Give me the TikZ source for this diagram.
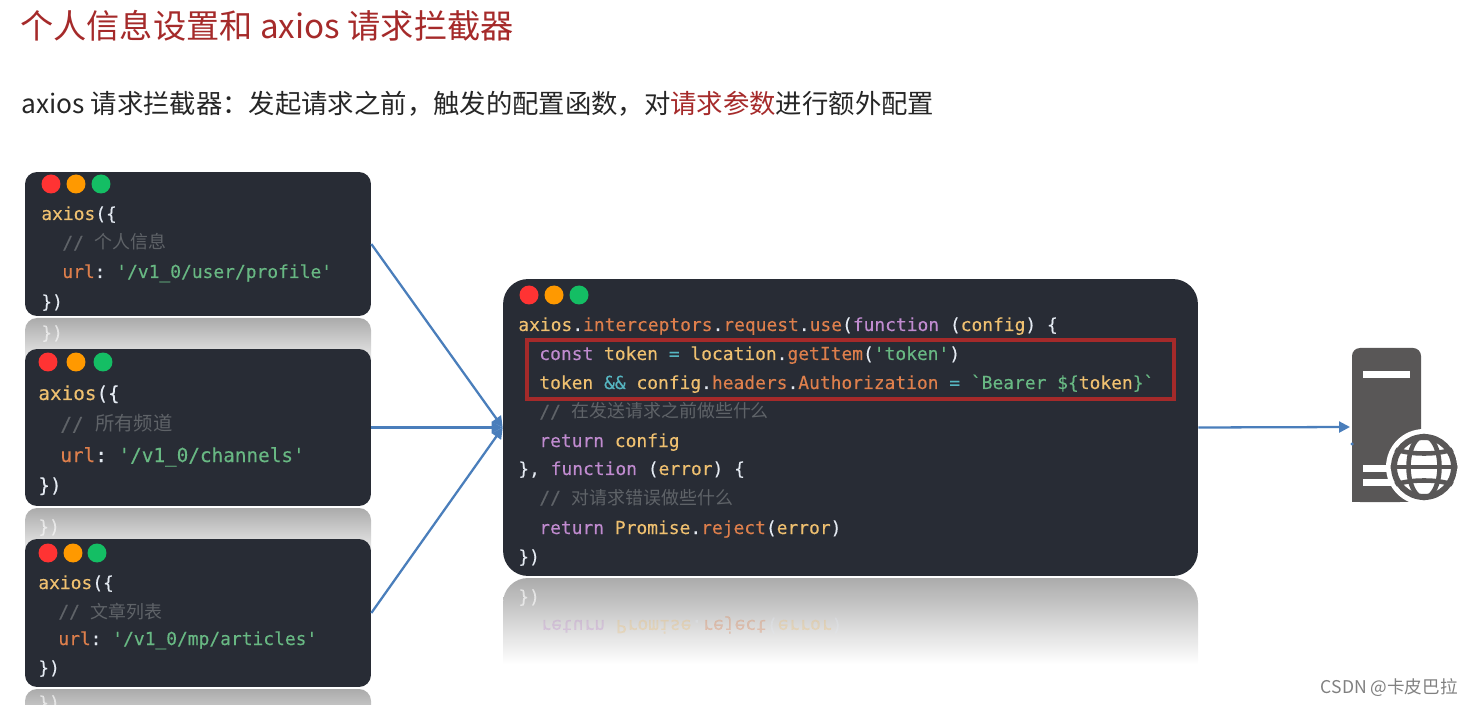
\documentclass[tikz,border=0pt]{standalone}
\usepackage{fontspec}
\setmainfont{Noto Sans CJK SC}
\setmonofont[RawFeature={embolden=0.25}]{DejaVu Sans Mono}
\newfontfamily\cjk{Noto Sans CJK SC}
\usepackage{xcolor}
\usetikzlibrary{arrows.meta, positioning, shapes.geometric, calc}
\definecolor{panelbg}{HTML}{282C35}
\definecolor{titlered}{HTML}{A52A2A}
\definecolor{linkblue}{HTML}{4A7EBB}
\definecolor{servergray}{HTML}{595757}
\definecolor{cyel}{HTML}{EFC070}
\definecolor{corg}{HTML}{DE7F4C}
\definecolor{cpur}{HTML}{C08BCF}
\definecolor{cgrn}{HTML}{68B883}
\definecolor{ccya}{HTML}{56B6C2}
\definecolor{cwht}{HTML}{E4EAF2}
\definecolor{cgry}{HTML}{5F6368}
\newcommand{\yel}[1]{\textcolor{cyel}{#1}}
\newcommand{\org}[1]{\textcolor{corg}{#1}}
\newcommand{\pur}[1]{\textcolor{cpur}{#1}}
\newcommand{\grn}[1]{\textcolor{cgrn}{#1}}
\newcommand{\cya}[1]{\textcolor{ccya}{#1}}
\begin{document}
\begin{tikzpicture}[x=0.02cm, y=-0.02cm,
  codebox/.style={fill=panelbg, inner sep=0pt, minimum width=6.92cm, rounded corners=0.24cm},
  codeline/.style={anchor=base west, inner sep=0pt, font=\fontsize{10.2}{12}\selectfont\ttfamily, text=cwht},
  remark/.style={codeline, text=cgry},
  mirror/.style={top color=black!33, bottom color=white, rounded corners=0.24cm},
  link/.style={-{Triangle[length=0.22cm, width=0.22cm]}, draw=linkblue, line width=1.3pt}]
  \useasboundingbox (0,0) rectangle (1473,705);
  % Heading
  \node[anchor=base west, inner sep=0pt, text=titlered, font=\fontsize{18.9}{22}\selectfont] (title) at (20,39) {个人信息设置和 axios 请求拦截器};
  \node[anchor=base west, inner sep=0pt, text=black!85, font=\fontsize{15}{18}\selectfont] (subtitle) at (21,114) {axios 请求拦截器：发起请求之前，触发的配置函数，对\textcolor{titlered}{请求参数}进行额外配置};
  % Reflections under the boxes
  \shade[mirror] (25,318) rectangle (371,374);
  \shade[mirror] (25,508) rectangle (371,564);
  \shade[mirror] (25,689) rectangle (371,745);
  \shade[mirror, rounded corners=0.5cm] (503,664) -- (503,578) -- (1198,578) [sharp corners] -- (1198,664) -- cycle;
  \node[codeline, text=white, opacity=0.6] (refa) at (41,339) {\})};
  \node[codeline, text=white, opacity=0.6] (refb) at (38,533) {\})};
  \node[codeline, text=white, opacity=0.6] (refc) at (38,709) {\})};
  \node[codeline, text=white, opacity=0.6] (refd) at (518,603) {\})};
  \node[codeline, opacity=0.3, yscale=-1, transform shape] (refe) at (540,620) {\pur{return} \yel{Promise}.\org{reject}(\yel{error})};
  % Small boxes on the left
  \node[codebox, minimum height=2.88cm] (box1) at (198,244) {};
  \node[codebox, minimum height=3.14cm] (box2) at (198,427.5) {};
  \node[codebox, minimum height=2.96cm] (box3) at (198,613) {};
  % Big box
  \node[codebox, minimum width=13.9cm, minimum height=5.94cm, rounded corners=0.5cm] (panel) at (850.5,427.5) {};
  % Window buttons
  \foreach \cx/\cy/\cc in {51/184/FF3333, 76/184/FF9900, 101/184/14BE64,
                           48/362/FF3333, 76/362/FF9900, 103/362/14BE64,
                           48/553/FF3333, 73/553/FF9900, 97/553/14BE64,
                           529/295/FF3333, 554/295/FF9900, 579/295/14BE64} {
    \definecolor{btn}{HTML}{\cc}
    \fill[btn] (\cx,\cy) circle (0.19cm);
  }
  % Box 1 text
  \node[codeline] (aa) at (41,220) {\yel{axios}(\{};
  \node[remark] (ab) at (62,249) {// {\cjk 个人信息}};
  \node[codeline] (ac) at (62,278) {\org{url}: \grn{'/v1\_0/user/profile'}};
  \node[codeline] (ad) at (41,308) {\})};
  % Box 2 text
  \node[codeline, font=\fontsize{11}{13}\selectfont\ttfamily] (ba) at (38,400) {\yel{axios}(\{};
  \node[remark, font=\fontsize{11}{13}\selectfont\ttfamily] (bb) at (60,431) {// {\cjk 所有频道}};
  \node[codeline, font=\fontsize{11}{13}\selectfont\ttfamily] (bc) at (60,462) {\org{url}: \grn{'/v1\_0/channels'}};
  \node[codeline, font=\fontsize{11}{13}\selectfont\ttfamily] (bd) at (38,492) {\})};
  % Box 3 text
  \node[codeline] (ca) at (38,589) {\yel{axios}(\{};
  \node[remark] (cb) at (58,618) {// {\cjk 文章列表}};
  \node[codeline] (cc) at (58,645) {\org{url}: \grn{'/v1\_0/mp/articles'}};
  \node[codeline] (cd) at (38,674) {\})};
  % Big box text
  \node[codeline] (pa) at (518,331) {\yel{axios}.\org{interceptors}.\org{request}.\org{use}(\pur{function} (\yel{config}) \{};
  \node[codeline] (pb) at (539,360) {\pur{const} \yel{token} \cya{=} \yel{location}.\org{getItem}(\grn{'token'})};
  \node[codeline] (pc) at (539,389) {\yel{token} \cya{\&\&} \yel{config}.\org{headers}.\org{Authorization} \cya{=} \grn{`Bearer \$\{}\yel{token}\grn{\}`}};
  \node[remark] (pd) at (539,418) {// {\cjk 在发送请求之前做些什么}};
  \node[codeline] (pe) at (539,447) {\pur{return} \yel{config}};
  \node[codeline] (pf) at (518,475) {\}, \pur{function} (\yel{error}) \{};
  \node[remark] (pg) at (539,504) {// {\cjk 对请求错误做些什么}};
  \node[codeline] (ph) at (539,534) {\pur{return} \yel{Promise}.\org{reject}(\yel{error})};
  \node[codeline] (pi) at (518,563) {\})};
  % Red frame
  \node[draw=titlered, line width=2pt, inner sep=0pt, minimum width=12.94cm, minimum height=1.18cm] (frame) at (850.5,369.5) {};
  % Server
  \fill[servergray, rounded corners=0.16cm] (1352,502) -- (1352,348) -- (1421,348) -- (1421,502) -- cycle;
  \fill[servergray] (1352,490) rectangle (1421,502);
  \fill[white] (1363,371) rectangle (1410,378);
  \fill[white] (1363,465) rectangle (1395,472);
  \fill[white] (1363,479) rectangle (1395,486);
  % Globe
  \fill[white] (1424,467) circle (0.76cm);
  \fill[white] (1400,502) rectangle (1440,512);
  \coordinate (globe) at (1424,467);
  \begin{scope}
    \clip (globe) circle (0.67cm);
    \draw[servergray, line width=3.4pt] (globe) circle (0.6cm);
    \draw[servergray, line width=2.6pt] (globe) ellipse (0.31cm and 0.62cm);
    \draw[servergray, line width=2.6pt] (1390,467) -- (1458,467);
    \draw[servergray, line width=2.6pt] (1394,449) .. controls (1410,455) and (1438,455) .. (1454,449);
    \draw[servergray, line width=2.6pt] (1394,485) .. controls (1410,479) and (1438,479) .. (1454,485);
  \end{scope}
  % Connectors
  \coordinate (serverin) at (1350,427);
  \fill[linkblue] (1352,444) circle (0.035cm);
  \draw[link] (box1.east) -- (panel.west);
  \draw[link] (box2.east) -- (panel.west);
  \draw[link] (box3.east) -- (panel.west);
  \draw[link] (panel.east) -- (serverin);
  \node[anchor=base east, inner sep=0pt, text=black!50, font=\fontsize{10}{12}\selectfont] (mark) at (1458,693) {CSDN @卡皮巴拉};
\end{tikzpicture}
\end{document}
